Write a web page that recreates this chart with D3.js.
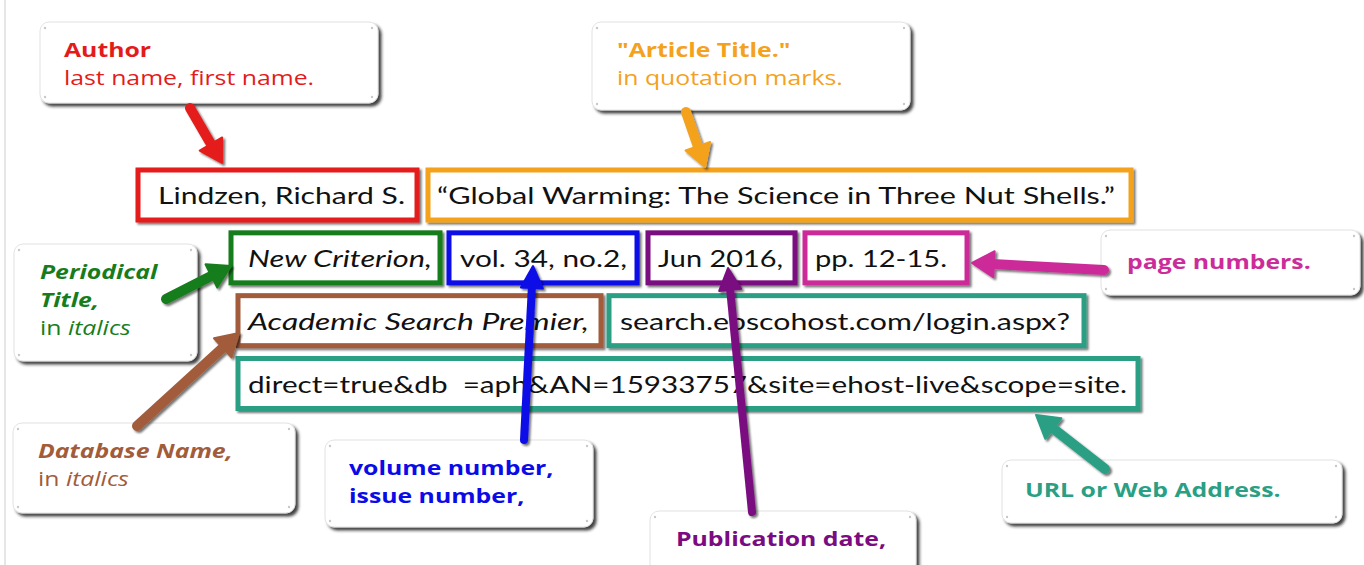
<!DOCTYPE html>
<html>
<head>
<meta charset="utf-8">
<script src="https://cdn.jsdelivr.net/npm/d3@7"></script>
<style>
  body { margin: 0; background: #fff; overflow: hidden; }
</style>
</head>
<body>
<div id="chart"></div>
<script>
// pezzi della citazione, uno per riquadro
var segmentTexts = [
    "Lindzen, Richard S.",
    "\u201CGlobal Warming: The Science in Three Nut Shells.\u201D",
    "New Criterion,",
    "vol. 34, no.2,",
    "Jun 2016,",
    "pp. 12-15.",
    "Academic Search Premier,",
    "search.ebscohost.com/login.aspx?",
    "direct=true&db  =aph&AN=15933757&site=ehost-live&scope=site."
];
var segmentRoles = ["author", "title", "periodical", "volume", "date", "pages", "database", "url", "url"];
var segmentRows = [0, 0, 1, 1, 1, 1, 2, 2, 3];

// etichette dei fumetti
var roles = ["author", "title", "periodical", "volume", "date", "pages", "database", "url"];
var labelLines = [
    ["Author"],
    ["\"Article Title.\""],
    ["Periodical", "Title,"],
    ["volume number,", "issue number,"],
    ["Publication date,"],
    ["page numbers."],
    ["Database Name,"],
    ["URL or Web Address."]
];
// nota sotto l'etichetta: [parte normale, parte in corsivo]
var noteParts = [
    ["last name, first name.", ""],
    ["in quotation marks.", ""],
    ["in ", "italics"],
    null,
    null,
    null,
    ["in ", "italics"],
    null
];

// stili per ruolo
var roleColors = {
    author: "#e41b1b", title: "#f4a11d", periodical: "#177d1c", volume: "#0b0be8",
    date: "#7a0b80", pages: "#cc2c99", database: "#a25c3a", url: "#2a9f84"
};
var italicRoles = ["periodical", "database"];

// posizioni dei riquadri (x0, x1, inizio testo, larghezza testo)
var segmentLayout = [
    { x0: 138, x1: 417, tx: 158, tw: 247 },
    { x0: 428, x1: 1131, tx: 437, tw: 678 },
    { x0: 231, x1: 440, tx: 248, tw: 184 },
    { x0: 449, x1: 637, tx: 460, tw: 167 },
    { x0: 648, x1: 795, tx: 658, tw: 125 },
    { x0: 805, x1: 967, tx: 815, tw: 132 },
    { x0: 238, x1: 601, tx: 248, tw: 341 },
    { x0: 609, x1: 1084, tx: 620, tw: 450 },
    { x0: 238, x1: 1138, tx: 248, tw: 879 }
];

// posizioni dei fumetti e delle frecce
var calloutLayout = {
    author:     { x: 40,   y: 22,  w: 338, h: 81,  tx: 64,   by: 35, from: [190, 108],  to: [222, 163] },
    title:      { x: 592,  y: 22,  w: 318, h: 88,  tx: 617,  by: 35, from: [686, 112],  to: [705, 167] },
    periodical: { x: 14,   y: 244, w: 183, h: 117, tx: 40,   by: 35, from: [166, 299],  to: [231, 266] },
    volume:     { x: 325,  y: 440, w: 268, h: 87,  tx: 349,  by: 35, from: [524, 440],  to: [533, 266] },
    date:       { x: 650,  y: 511, w: 266, h: 62,  tx: 676,  by: 35, from: [752, 512],  to: [728, 268] },
    pages:      { x: 1101, y: 230, w: 259, h: 65,  tx: 1127, by: 39, from: [1104, 270], to: [972, 263] },
    database:   { x: 13,   y: 423, w: 282, h: 90,  tx: 38,   by: 35, from: [137, 426],  to: [239, 333] },
    url:        { x: 1002, y: 460, w: 340, h: 63,  tx: 1025, by: 37, from: [1105, 469], to: [1036, 415] }
};

var width = 1364;
var height = 565;
var stretch = 1.24;

var svg = d3.select("#chart")
            .append("svg")
            .attr("width", width)
            .attr("height", height);

var defs = svg.append("defs");

defs.append("filter")
    .attr("id", "boxShadow")
    .attr("x", "-5%").attr("y", "-20%")
    .attr("width", "110%").attr("height", "140%")
    .append("feDropShadow")
    .attr("dx", 2).attr("dy", 2)
    .attr("stdDeviation", 1)
    .attr("flood-color", "#000")
    .attr("flood-opacity", 0.55);

defs.append("filter")
    .attr("id", "cardShadow")
    .attr("x", "-10%").attr("y", "-10%")
    .attr("width", "120%").attr("height", "130%")
    .append("feDropShadow")
    .attr("dx", 3).attr("dy", 3)
    .attr("stdDeviation", 1.5)
    .attr("flood-color", "#222")
    .attr("flood-opacity", 0.85);

// riga grigia a sinistra
svg.append("line")
   .attr("x1", 5).attr("x2", 5)
   .attr("y1", 0).attr("y2", height)
   .attr("stroke", "#e6e6e6")
   .attr("stroke-width", 2);

// scala delle righe della citazione
var rowScale = d3.scalePoint()
                 .domain([0, 1, 2, 3])
                 .range([195, 383.5]);

var boxH = 50;

var segments = segmentTexts.map(function(t, i) {
    return { text: t, role: segmentRoles[i], row: segmentRows[i], lay: segmentLayout[i] };
});

var gSeg = svg.append("g");

var seg = gSeg.selectAll("g")
              .data(segments)
              .enter()
              .append("g");

seg.append("rect")
   .attr("x", function(d) { return d.lay.x0; })
   .attr("y", function(d) { return rowScale(d.row) - boxH / 2; })
   .attr("width", function(d) { return d.lay.x1 - d.lay.x0; })
   .attr("height", boxH)
   .attr("fill", "#fff")
   .attr("stroke", function(d) { return roleColors[d.role]; })
   .attr("stroke-width", 5)
   .attr("filter", "url(#boxShadow)");

seg.append("text")
   .attr("x", function(d) { return d.lay.tx; })
   .attr("y", function(d) { return rowScale(d.row) + 9; })
   .attr("textLength", function(d) { return d.lay.tw; })
   .attr("lengthAdjust", "spacingAndGlyphs")
   .style("font-family", "Lato, 'Open Sans', sans-serif")
   .style("font-size", "24px")
   .style("font-style", function(d) { return italicRoles.indexOf(d.role) >= 0 ? "italic" : "normal"; })
   .attr("fill", "#111")
   .attr("xml:space", "preserve")
   .text(function(d) { return d.text; });

// fumetti
var callouts = roles.map(function(r, i) {
    return { role: r, lines: labelLines[i], note: noteParts[i], lay: calloutLayout[r] };
});

var gCard = svg.append("g");

var card = gCard.selectAll("g")
                .data(callouts)
                .enter()
                .append("g");

card.append("rect")
    .attr("x", function(d) { return d.lay.x; })
    .attr("y", function(d) { return d.lay.y; })
    .attr("width", function(d) { return d.lay.w; })
    .attr("height", function(d) { return d.lay.h; })
    .attr("rx", 9)
    .attr("fill", "#fff")
    .attr("stroke", "#e2e2e2")
    .attr("stroke-width", 1)
    .attr("filter", "url(#cardShadow)");

// puntini negli angoli
card.each(function(d) {
    var g = d3.select(this);
    var pts = [[d.lay.x + 5, d.lay.y + 6], [d.lay.x + d.lay.w - 6, d.lay.y + 6],
               [d.lay.x + 5, d.lay.y + d.lay.h - 6], [d.lay.x + d.lay.w - 6, d.lay.y + d.lay.h - 6]];
    g.selectAll("circle")
     .data(pts)
     .enter()
     .append("circle")
     .attr("cx", function(p) { return p[0]; })
     .attr("cy", function(p) { return p[1]; })
     .attr("r", 1.2)
     .attr("fill", "#c8c8c8");
});

var lineH = 28;

// allarga un po' il testo per avvicinarsi al carattere originale
function widen(t) {
    var len = t.node().getComputedTextLength();
    t.attr("textLength", len * stretch)
     .attr("lengthAdjust", "spacingAndGlyphs");
}

card.each(function(d) {
    var g = d3.select(this);
    var color = roleColors[d.role];
    var italic = italicRoles.indexOf(d.role) >= 0;
    d.lines.forEach(function(l, i) {
        var t = g.append("text")
                 .attr("x", d.lay.tx)
                 .attr("y", d.lay.y + d.lay.by + i * lineH)
                 .style("font-family", "'Open Sans', 'Noto Sans', sans-serif")
                 .style("font-size", "20px")
                 .style("font-weight", "bold")
                 .style("font-style", italic ? "italic" : "normal")
                 .attr("fill", color)
                 .text(l);
        widen(t);
    });
    if (d.note) {
        var t = g.append("text")
                 .attr("x", d.lay.tx)
                 .attr("y", d.lay.y + d.lay.by + d.lines.length * lineH)
                 .style("font-family", "'Open Sans', 'Noto Sans', sans-serif")
                 .style("font-size", "20px")
                 .attr("fill", color)
                 .attr("xml:space", "preserve");
        t.append("tspan").text(d.note[0]);
        if (d.note[1]) t.append("tspan").style("font-style", "italic").text(d.note[1]);
        widen(t);
    }
});

// frecce
function arrowPath(from, to, head, half) {
    var dx = to[0] - from[0], dy = to[1] - from[1];
    var len = Math.sqrt(dx * dx + dy * dy);
    var ux = dx / len, uy = dy / len;
    var bx = to[0] - ux * head, by = to[1] - uy * head;
    return {
        line: [from, [bx + ux * 2, by + uy * 2]],
        head: [to, [bx - uy * half, by + ux * half], [bx + uy * half, by - ux * half]]
    };
}

var gArrow = svg.append("g")
                .attr("filter", "url(#boxShadow)");

callouts.forEach(function(d) {
    var thin = (d.role == "volume" || d.role == "date");
    var a = arrowPath(d.lay.from, d.lay.to, 22, thin ? 11 : 13);
    var color = roleColors[d.role];
    gArrow.append("path")
          .attr("d", d3.line()(a.line))
          .attr("stroke", color)
          .attr("stroke-width", thin ? 8 : 10)
          .attr("stroke-linecap", "round")
          .attr("fill", "none");
    gArrow.append("path")
          .attr("d", d3.line()(a.head) + "Z")
          .attr("fill", color)
          .attr("stroke", color)
          .attr("stroke-width", 2)
          .attr("stroke-linejoin", "round");
});
</script>
</body>
</html>
